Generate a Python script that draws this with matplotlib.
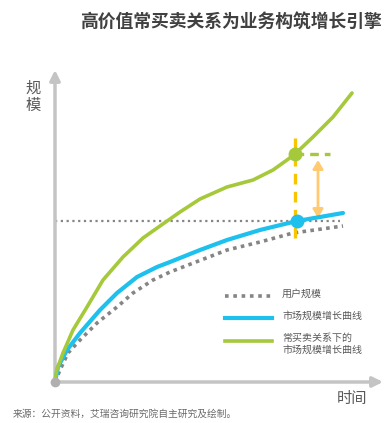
import matplotlib
matplotlib.use("Agg")
import matplotlib.pyplot as plt

plt.rcParams['font.family'] = ['Noto Sans CJK SC', 'DejaVu Sans']

# Data (arbitrary units: time vs scale)
green_x = [0, 1.7, 8, 18, 32, 48, 68, 88, 105, 125, 145, 172, 198, 218, 232, 240, 258, 278, 297]
green_y = [0, 12, 29, 52, 75, 102, 125, 144, 156, 170, 183, 195, 202, 212, 222, 228, 245, 265, 289]
blue_x = [0, 3, 12, 25, 45, 62, 82, 102, 115, 145, 172, 205, 242, 288]
blue_y = [0, 15, 32, 49, 72, 89, 105, 115, 120, 132, 142, 152, 161, 169]
gray_x = [0, 5, 13, 25, 42, 62, 78, 98, 115, 172, 205, 238, 288]
gray_y = [0, 12, 29, 42, 59, 75, 89, 102, 110, 132, 140, 149, 156]
legend_labels = ["用户规模", "市场规模增长曲线", "常买卖关系下的\n市场规模增长曲线"]
title = "高价值常买卖关系为业务构筑增长引擎"
source = "来源：公开资料，艾瑞咨询研究院自主研究及绘制。"

GREEN = "#a5c93a"
BLUE = "#1ec0ee"
GRAY = "#858585"
AXIS = "#c4c4c4"
YELLOW = "#f7c600"
ORANGE = "#ffca70"
TXT = "#595959"

W, H = 392, 423
fig = plt.figure(figsize=(W / 100, H / 100), dpi=100)
ax = fig.add_axes([55 / W, (H - 382) / H, 328 / W, 312 / H])
ax.set_xlim(0, 328)
ax.set_ylim(0, 312)
ax.axis("off")

# axes arrows
ax.annotate("", xy=(328, 0), xytext=(0, 0),
            arrowprops=dict(arrowstyle="-|>,head_length=0.6,head_width=0.3", color=AXIS, lw=2.5,
                            shrinkA=0, shrinkB=0), annotation_clip=False)
ax.annotate("", xy=(0, 312), xytext=(0, 0),
            arrowprops=dict(arrowstyle="-|>,head_length=0.6,head_width=0.3", color=AXIS, lw=2.5,
                            shrinkA=0, shrinkB=0), annotation_clip=False)

# reference horizontal dotted line at blue point level
ip = 12  # index of highlighted blue point
ig = 15  # index of highlighted green point
ax.plot([0, 285], [blue_y[ip], blue_y[ip]], color=GRAY, lw=1.6, ls=(0, (1, 1.6)), clip_on=False)

# curves
ax.plot(gray_x, gray_y, color=GRAY, lw=2.6, ls=(0, (1, 1.2)), clip_on=False, zorder=3)
ax.plot(blue_x, blue_y, color=BLUE, lw=3.0, clip_on=False, zorder=4,
        solid_capstyle="round", solid_joinstyle="round")
ax.plot(green_x, green_y, color=GREEN, lw=2.6, clip_on=False, zorder=4,
        solid_capstyle="round", solid_joinstyle="round")

# annotations
ax.plot([green_x[ig], green_x[ig]], [144, 244], color=YELLOW, lw=2.4, ls=(0, (3.2, 2.2)), zorder=3)
ax.plot([green_x[ig], 275], [green_y[ig], green_y[ig]], color=GREEN, lw=2.4, ls=(0, (2.6, 1.8)), zorder=3)
ax.annotate("", xy=(263, 164), xytext=(263, 222),
            arrowprops=dict(arrowstyle="<|-|>,head_length=0.5,head_width=0.3", color=ORANGE, lw=2.0,
                            shrinkA=0, shrinkB=0))
ax.plot([blue_x[ip]], [blue_y[ip]], "o", color=BLUE, ms=9, zorder=6)
ax.plot([green_x[ig]], [green_y[ig]], "o", color=GREEN, ms=9, zorder=6)
ax.plot([0], [0], "o", color="#b0b0b0", ms=6, zorder=7, clip_on=False)

# legend
ax.plot([170, 217], [86, 86], color=GRAY, lw=2.6, ls=(0, (1, 1.3)))
ax.plot([170, 217], [64, 64], color=BLUE, lw=3.0)
ax.plot([170, 217], [41, 41], color=GREEN, lw=2.6)
ax.text(227, 88, legend_labels[0], fontsize=7.2, color=TXT, va="center")
ax.text(227, 66, legend_labels[1], fontsize=7.2, color=TXT, va="center")
ax.text(227, 38, legend_labels[2], fontsize=7.2, color=TXT, va="center", linespacing=1.15)

# texts
fig.text(382 / W, 1 - 22 / H, title, fontsize=12.8, fontweight="bold", color="#404040",
         ha="right", va="center")
fig.text(33 / W, 1 - 97 / H, "规\n模", fontsize=11, color=TXT, ha="center", va="center", linespacing=1.0)
fig.text(352 / W, 1 - 398 / H, "时间", fontsize=11, color=TXT, ha="center", va="center")
fig.text(13 / W, 1 - 414 / H, source, fontsize=7, color="#6a6a6a", ha="left", va="center")

fig.savefig("out.png", dpi=100)
